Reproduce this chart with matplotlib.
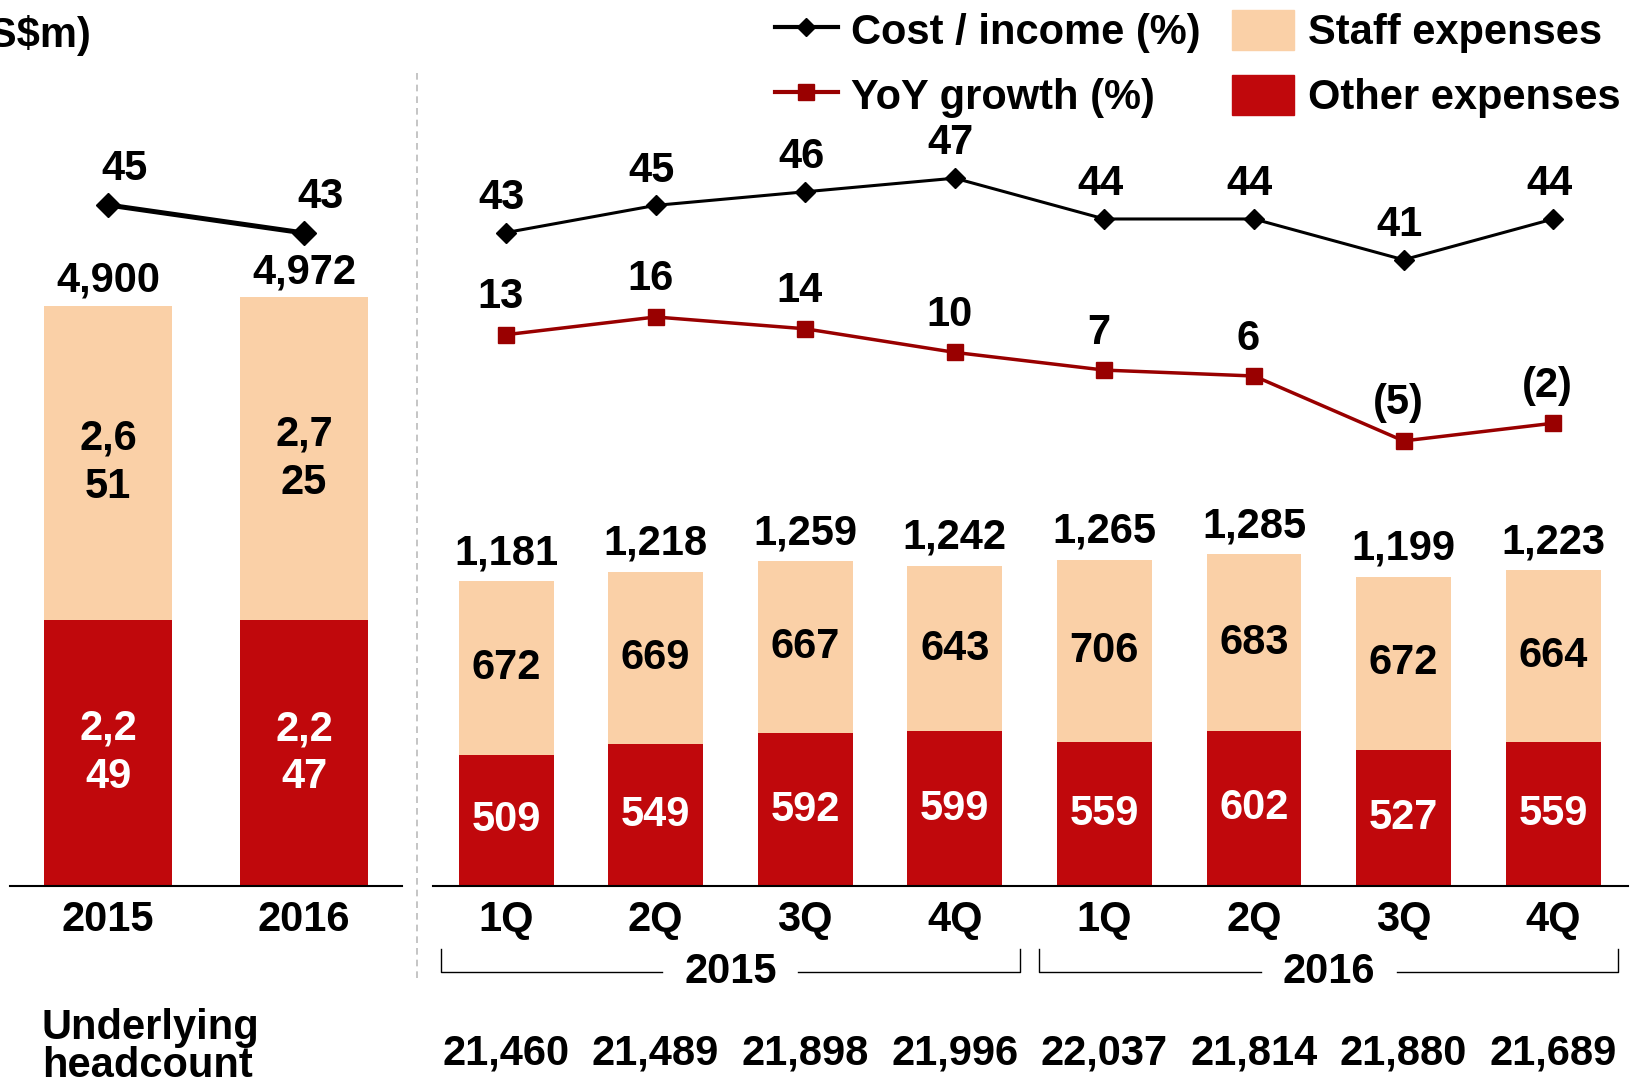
import numpy as np
import matplotlib
matplotlib.use('Agg')
import matplotlib.pyplot as plt
import matplotlib.transforms as mtransforms
from matplotlib.lines import Line2D
from matplotlib.patches import Patch

plt.rcParams['font.family'] = ['Liberation Sans', 'DejaVu Sans']
plt.rcParams['font.weight'] = 'bold'

# yearly data (S$m)
years = ['2015', '2016']
year_other = [2249, 2247]
year_staff = [2651, 2725]
year_total = [4900, 4972]
year_cost_income = [45, 43]

# quarterly data (S$m)
quarters = ['1Q', '2Q', '3Q', '4Q', '1Q', '2Q', '3Q', '4Q']
quarter_years = ['2015', '2015', '2015', '2015', '2016', '2016', '2016', '2016']
q_other = [509, 549, 592, 599, 559, 602, 527, 559]
q_staff = [672, 669, 667, 643, 706, 683, 672, 664]
q_total = [1181, 1218, 1259, 1242, 1265, 1285, 1199, 1223]
q_cost_income = [43, 45, 46, 47, 44, 44, 41, 44]
q_yoy = [13, 16, 14, 10, 7, 6, -5, -2]
headcount = [21460, 21489, 21898, 21996, 22037, 21814, 21880, 21689]

STAFF = '#FAD0A7'
OTHER = '#C0080C'
YOY = '#990000'
FS = 30

W, H = 1638, 1083
fig = plt.figure(figsize=(W / 100, H / 100), dpi=100)


def pct(v):
    return '(%d)' % abs(v) if v < 0 else '%d' % v


def style_axis(ax):
    for s in ['top', 'left', 'right']:
        ax.spines[s].set_visible(False)
    ax.spines['bottom'].set_linewidth(1.5)
    ax.set_yticks([])
    ax.tick_params(axis='x', length=0, pad=10, labelsize=FS)


# ---- left panel: full years ----
ax_l = fig.add_axes([10 / W, 1 - 886 / H, 392 / W, 886 / H])
xl = np.arange(len(years))
ax_l.bar(xl, year_other, width=0.657, color=OTHER)
ax_l.bar(xl, year_staff, bottom=year_other, width=0.657, color=STAFF)
ax_l.set_xlim(-0.5, 1.5)
ax_l.set_ylim(0, 7483)
ax_l.set_xticks(xl)
ax_l.set_xticklabels(years)
style_axis(ax_l)
for i in range(len(years)):
    s = '{:,}'.format(year_other[i])
    ax_l.text(i, year_other[i] / 2, s[:3] + '\n' + s[3:], ha='center', va='center',
              color='white', fontsize=FS, linespacing=1.25)
    s = '{:,}'.format(year_staff[i])
    ax_l.text(i, year_other[i] + year_staff[i] / 2, s[:3] + '\n' + s[3:], ha='center',
              va='center', color='black', fontsize=FS, linespacing=1.25)
    ax_l.annotate('{:,}'.format(year_total[i]), (i, year_total[i]), xytext=(0, 18),
                  textcoords='offset points', ha='center', va='center', fontsize=FS)

ax_lc = ax_l.twinx()
ax_lc.set_ylim(-3.64, 59.64)
ax_lc.axis('off')
ax_lc.plot(xl, year_cost_income, color='black', lw=3.6, marker='D', ms=12)
for i, v in enumerate(year_cost_income):
    ax_lc.annotate(pct(v), (i, v), xytext=(12, 26), textcoords='offset points',
                   ha='center', va='center', fontsize=FS)

# ---- right panel: quarters ----
ax_r = fig.add_axes([433 / W, 1 - 886 / H, 1195 / W, 886 / H])
xq = np.arange(len(quarters))
ax_r.bar(xq, q_other, width=0.635, color=OTHER)
ax_r.bar(xq, q_staff, bottom=q_other, width=0.635, color=STAFF)
ax_r.set_xlim(-0.488, 7.5)
ax_r.set_ylim(0, 3434)
ax_r.set_xticks(xq)
ax_r.set_xticklabels(quarters)
style_axis(ax_r)
for i in xq:
    ax_r.text(i, q_other[i] / 2, str(q_other[i]), ha='center', va='center',
              color='white', fontsize=FS)
    ax_r.text(i, q_other[i] + q_staff[i] / 2, str(q_staff[i]), ha='center',
              va='center', color='black', fontsize=FS)
    ax_r.annotate('{:,}'.format(q_total[i]), (i, q_total[i]), xytext=(0, 20),
                  textcoords='offset points', ha='center', va='center', fontsize=FS)

ax_rc = ax_r.twinx()
ax_rc.set_ylim(-5.04, 60.10)
ax_rc.axis('off')
ax_rc.plot(xq, q_cost_income, color='black', lw=2.2, marker='D', ms=10)
for i, v in enumerate(q_cost_income):
    ax_rc.annotate(pct(v), (i, v), xytext=(-3, 25), textcoords='offset points',
                   ha='center', va='center', fontsize=FS)

ax_ry = ax_r.twinx()
ax_ry.set_ylim(-80.4, 69.7)
ax_ry.axis('off')
ax_ry.plot(xq, q_yoy, color=YOY, lw=2.5, marker='s', ms=12)
for i, v in enumerate(q_yoy):
    ax_ry.annotate(pct(v), (i, v), xytext=(-4, 27), textcoords='offset points',
                   ha='center', va='center', fontsize=FS)

# year brackets under the quarters
trans = mtransforms.blended_transform_factory(ax_r.transData, ax_r.transAxes)
y_line, y_top = -0.0975, -0.071
for yr in ['2015', '2016']:
    idx = [i for i, q in enumerate(quarter_years) if q == yr]
    c = np.mean(idx)
    lo, hi, gap = min(idx) - 0.434, max(idx) + 0.434, 0.455
    ax_r.plot([lo, lo, c - gap], [y_top, y_line, y_line], transform=trans,
              clip_on=False, color='black', lw=1)
    ax_r.plot([c + gap, hi, hi], [y_line, y_line, y_top], transform=trans,
              clip_on=False, color='black', lw=1)
    ax_r.text(c, y_line, yr, transform=trans, ha='center', va='center', fontsize=FS)

for i, h in enumerate(headcount):
    ax_r.text(i, -0.189, '{:,}'.format(h), transform=trans, ha='center',
              va='center', fontsize=FS)

fig.text(42 / W, 1 - 1047 / H, 'Underlying\nheadcount', ha='left', va='center',
         fontsize=FS, linespacing=0.95)
fig.text(92 / W, 1 - 35 / H, '(S$m)', ha='right', va='center', fontsize=FS)

fig.add_artist(Line2D([417 / W, 417 / W], [1 - 73 / H, 1 - 982 / H],
                      color='#BBBBBB', lw=1.2, ls=(0, (4, 3))))

handles = [Line2D([], [], color='black', lw=3, marker='D', ms=9),
           Line2D([], [], color=YOY, lw=3, marker='s', ms=11),
           Patch(color=STAFF), Patch(color=OTHER)]
labels = ['Cost / income (%)', 'YoY growth (%)', 'Staff expenses', 'Other expenses']
fig.legend(handles, labels, loc='upper left', bbox_to_anchor=(775 / W, 1 - 10 / H),
           ncol=2, frameon=False, fontsize=FS, handlelength=1.5, handleheight=1.1,
           handletextpad=0.32, columnspacing=0.75, labelspacing=0.52,
           borderpad=0, borderaxespad=0)

fig.savefig('out.png', dpi=100)
